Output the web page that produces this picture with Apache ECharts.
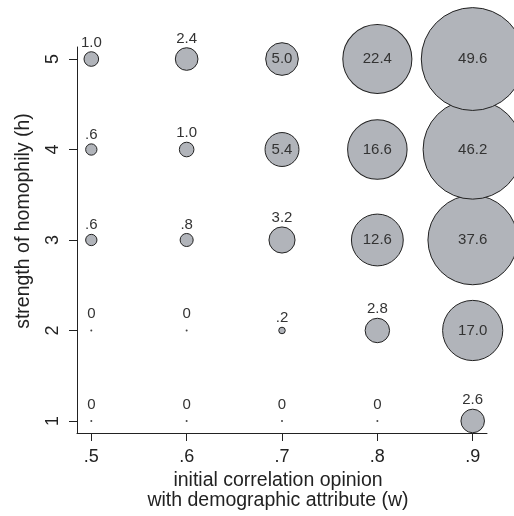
<!DOCTYPE html>
<html>
<head>
<meta charset="utf-8">
<script src="https://cdn.jsdelivr.net/npm/echarts@6/dist/echarts.min.js"></script>
<style>
  html, body { margin: 0; padding: 0; background: #fff; }
  #chart { width: 514px; height: 516px; }
</style>
</head>
<body>
<div id="chart"></div>
<script>
// initial correlation of opinion with demographic attribute (w)
const wLevels = [0.5, 0.6, 0.7, 0.8, 0.9];
const wTickLabels = ['.5', '.6', '.7', '.8', '.9'];
// strength of homophily (h)
const hLevels = [1, 2, 3, 4, 5];
const hTickLabels = ['1', '2', '3', '4', '5'];

// percentage per cell, one row per homophily level
const valuesH1 = [0, 0, 0, 0, 2.6];
const valuesH2 = [0, 0, 0.2, 2.8, 17.0];
const valuesH3 = [0.6, 0.8, 3.2, 12.6, 37.6];
const valuesH4 = [0.6, 1.0, 5.4, 16.6, 46.2];
const valuesH5 = [1.0, 2.4, 5.0, 22.4, 49.6];
const rows = [valuesH1, valuesH2, valuesH3, valuesH4, valuesH5];

// Stata-style number format: 0, .6, 1.0, 22.4
function fmt(v) {
  if (v === 0) return '0';
  const s = v.toFixed(1);
  return v < 1 ? s.slice(1) : s;
}

const points = [];
rows.forEach((row, i) => {
  row.forEach((v, j) => {
    const inside = v >= 5;
    points.push({
      value: [wLevels[j], hLevels[i], v],
      symbolSize: v === 0 ? 2 : 14.6 * Math.sqrt(v),
      itemStyle: v === 0 ? { color: '#444', borderWidth: 0 } : undefined,
      label: {
        position: inside ? 'inside' : 'top',
        distance: v === 0 ? 8 : 1
      }
    });
  });
});

const chart = echarts.init(document.getElementById('chart'), null, { renderer: 'canvas' });
const axisFont = 'Liberation Sans, Arial, sans-serif';

chart.setOption({
  animation: false,
  backgroundColor: '#fff',
  grid: { left: 77, right: 27, top: 47, bottom: 83 },
  xAxis: {
    type: 'value',
    min: 0.485,
    max: 0.915,
    name: 'initial correlation opinion\nwith demographic attribute (w)',
    nameLocation: 'middle',
    nameGap: 38,
    nameTextStyle: { fontSize: 19.5, color: '#222', fontFamily: axisFont, lineHeight: 20, padding: [0, 8, 0, 0] },
    axisLine: { show: true, onZero: false, lineStyle: { color: '#222', width: 1 } },
    axisTick: { show: true, length: 8, customValues: wLevels, lineStyle: { color: '#222' } },
    axisLabel: {
      customValues: wLevels,
      formatter: v => wTickLabels[wLevels.findIndex(w => Math.abs(w - v) < 1e-6)],
      fontSize: 18, color: '#222', fontFamily: axisFont, margin: 15
    },
    splitLine: { show: false }
  },
  yAxis: {
    type: 'value',
    min: 0.867,
    max: 5.133,
    name: 'strength of homophily (h)',
    nameLocation: 'middle',
    nameGap: 43,
    nameRotate: 90,
    nameTextStyle: { fontSize: 19.5, color: '#222', fontFamily: axisFont, padding: [0, 0, 0, 38] },
    axisLine: { show: true, onZero: false, lineStyle: { color: '#222', width: 1 } },
    axisTick: { show: true, length: 8, customValues: hLevels, lineStyle: { color: '#222' } },
    axisLabel: {
      customValues: hLevels,
      formatter: v => hTickLabels[hLevels.findIndex(h => Math.abs(h - v) < 1e-6)],
      rotate: 90,
      fontSize: 18, color: '#222', fontFamily: axisFont, margin: 15
    },
    splitLine: { show: false }
  },
  series: [{
    type: 'scatter',
    clip: false,
    data: points,
    itemStyle: { color: '#b1b4ba', borderColor: '#222', borderWidth: 1, opacity: 1 },
    label: {
      show: true,
      formatter: p => fmt(p.value[2]),
      fontSize: 15,
      color: '#333',
      fontFamily: axisFont
    },
    emphasis: { disabled: true }
  }]
});
</script>
</body>
</html>
